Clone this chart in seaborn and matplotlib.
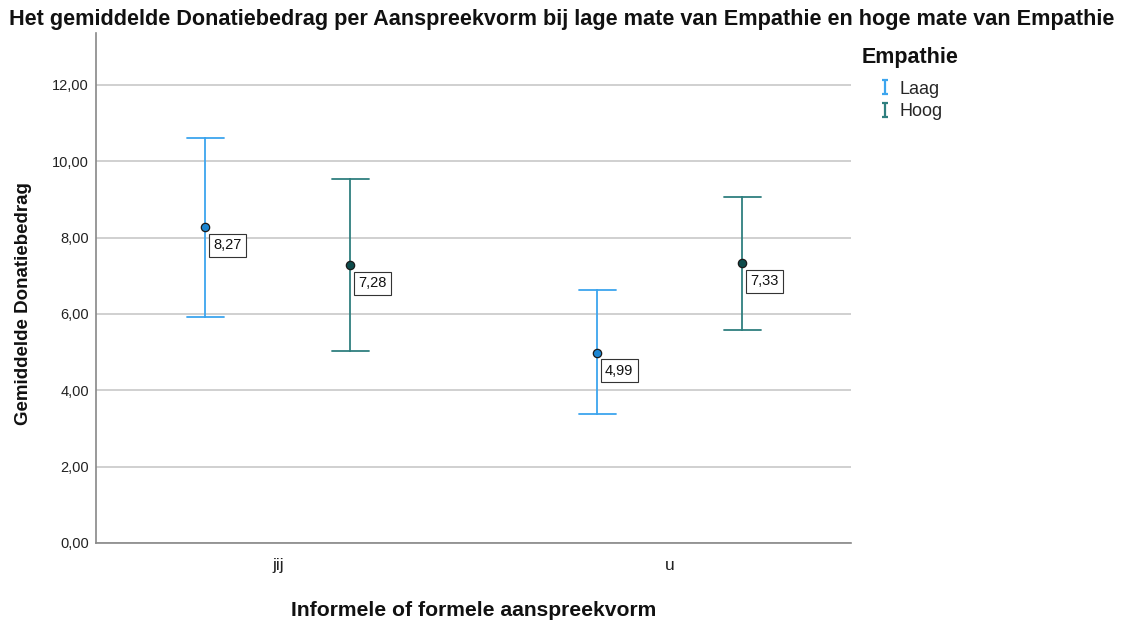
import matplotlib
matplotlib.use("Agg")
import matplotlib.pyplot as plt
from matplotlib.lines import Line2D
from matplotlib.path import Path
import seaborn as sns
import pandas as pd
import numpy as np

# ---- data ----
vormen = ["jij", "u"]
empathie = ["Laag", "Hoog"]
means_laag = [8.27, 4.99]
means_hoog = [7.28, 7.33]
lower_laag = [5.92, 3.37]
lower_hoog = [5.03, 5.58]
upper_laag = [10.61, 6.63]
upper_hoog = [9.54, 9.07]
yticks = [0, 2, 4, 6, 8, 10, 12]

bar_colors = {"Laag": "#3da5ee", "Hoog": "#2f7f7f"}
dot_colors = {"Laag": "#1c86d2", "Hoog": "#0e4b4b"}

rows = []
for i, v in enumerate(vormen):
    for e, lo, m, hi in (("Laag", lower_laag[i], means_laag[i], upper_laag[i]),
                         ("Hoog", lower_hoog[i], means_hoog[i], upper_hoog[i])):
        for val in (lo, m, hi):
            rows.append({"vorm": v, "Empathie": e, "bedrag": val})
df = pd.DataFrame(rows)

sns.set_style("white")
plt.rcParams["font.family"] = ["Liberation Sans", "DejaVu Sans"]

fig = plt.figure(figsize=(11.22, 6.24), dpi=100)
ax = fig.add_axes([96 / 1122, 1 - 543 / 624, (851 - 96) / 1122, (543 - 33) / 624])

sns.pointplot(data=df, x="vorm", y="bedrag", hue="Empathie", order=vormen,
              hue_order=empathie, estimator="median", errorbar=("pi", 100),
              dodge=0.37, linestyle="none", capsize=0.094, palette=bar_colors,
              markersize=6.0, err_kws={"linewidth": 1.3}, ax=ax, legend=False)

# recolor markers: darker fill with dark edge
for line in ax.lines:
    if line.get_marker() == "o":
        c = line.get_color()
        key = "Laag" if matplotlib.colors.to_hex(c) == bar_colors["Laag"] else "Hoog"
        line.set_markerfacecolor(dot_colors[key])
        line.set_markeredgecolor("#1a1a1a")
        line.set_markeredgewidth(0.9)
        line.set_zorder(5)
        xs, ys = line.get_xdata(), line.get_ydata()
        for x, y in zip(xs, ys):
            ax.annotate(f"{y:.2f}".replace(".", ","), (x, y), xytext=(5.5, -13),
                        textcoords="offset points", ha="left", va="center",
                        fontsize=10.5, color="#111111", zorder=6,
                        bbox=dict(boxstyle="square,pad=0.3", fc="white",
                                  ec="#333333", lw=0.8))

ax.set_xlim(-0.464, 1.462)
ax.set_ylim(0, 13.36)
ax.set_yticks(yticks)
ax.set_yticklabels([f"{t:.2f}".replace(".", ",") for t in yticks], fontsize=10.5,
                   color="#222222")
ax.tick_params(axis="x", length=0, labelsize=12.5, pad=11, labelcolor="#222222")
ax.tick_params(axis="y", length=0, pad=5)
ax.yaxis.grid(True, color="#c8c8c8", linewidth=1.2)
ax.set_axisbelow(True)
for s in ("top", "right"):
    ax.spines[s].set_visible(False)
for s in ("left", "bottom"):
    ax.spines[s].set_color("#888888")
    ax.spines[s].set_linewidth(1.2)

ax.set_xlabel("Informele of formele aanspreekvorm", fontsize=15.2, fontweight="bold",
              labelpad=20, color="#111111")
ax.set_ylabel("Gemiddelde Donatiebedrag", fontsize=13.5, fontweight="bold",
              color="#111111")
ax.yaxis.set_label_coords((32 - 96) / 755, (543 - 304) / 510)

fig.text(562 / 1122, 1 - 19 / 624,
         "Het gemiddelde Donatiebedrag per Aanspreekvorm bij lage mate van Empathie en hoge mate van Empathie",
         ha="center", va="center", fontsize=15.6, fontweight="bold", color="#111111")

fig.text(862 / 1122, 1 - 57 / 624, "Empathie", ha="left", va="center",
         fontsize=15.5, fontweight="bold", color="#111111")

ibar = Path([(-0.45, -1), (0.45, -1), (0, -1), (0, 1), (-0.45, 1), (0.45, 1)],
            [Path.MOVETO, Path.LINETO, Path.MOVETO, Path.LINETO, Path.MOVETO, Path.LINETO])
handles = [Line2D([], [], linestyle="none", marker=ibar, markersize=10,
                  markeredgewidth=1.6, color=bar_colors[e], label=e) for e in empathie]
leg = fig.legend(handles=handles, loc="upper left",
                 bbox_to_anchor=(859 / 1122, 1 - 68 / 624), frameon=False,
                 fontsize=13, handlelength=1.5, handletextpad=0.05,
                 labelspacing=0.3, borderpad=0.2)

fig.savefig("out.png", dpi=100)
